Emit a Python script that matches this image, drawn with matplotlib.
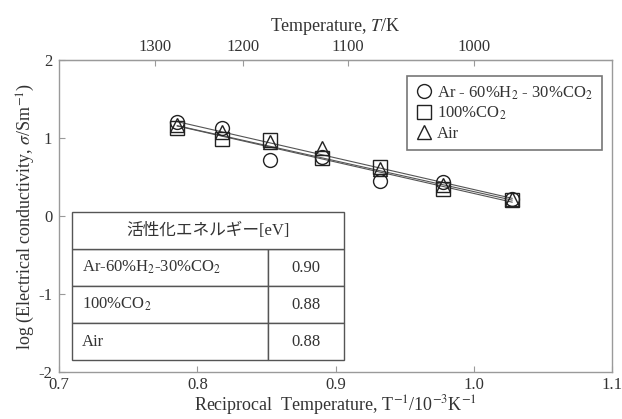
import numpy as np
import matplotlib.pyplot as plt

plt.rcParams['font.family'] = ['Liberation Serif', 'Noto Sans CJK JP']
plt.rcParams['mathtext.fontset'] = 'stix'
plt.rcParams['axes.unicode_minus'] = False

# Data
inv_temp = [0.7855, 0.8177, 0.8525, 0.8905, 0.932, 0.9775, 1.0277]
log_sigma_arh2co2 = [1.20, 1.13, 0.72, 0.75, 0.45, 0.44, 0.22]
log_sigma_co2 = [1.13, 0.99, 0.97, 0.74, 0.63, 0.35, 0.20]
log_sigma_air = [1.17, 1.07, 0.95, 0.87, 0.60, 0.40, 0.22]

series_labels = ['Ar - 60%H$_2$ - 30%CO$_2$', '100%CO$_2$', 'Air']
series_markers = ['o', 's', '^']

table_header = '活性化エネルギー[eV]'
table_rows = ['Ar-60%H$_2$-30%CO$_2$', '100%CO$_2$', 'Air']
table_values = ['0.90', '0.88', '0.88']

top_temps = [1300, 1200, 1100, 1000]

fig = plt.figure(figsize=(6.22, 4.19), dpi=100)
ax = fig.add_axes([0.095, 0.112, 0.889, 0.745])

grey = '#9a9a9a'
txt = '#333333'

x = np.array(inv_temp)
for ys, lab, mk in zip([log_sigma_arh2co2, log_sigma_co2, log_sigma_air], series_labels, series_markers):
    ys = np.array(ys)
    # fitted Arrhenius line
    p = np.polyfit(x, ys, 1)
    ax.plot(x[[0, -1]], np.polyval(p, x[[0, -1]]), color='#555555', lw=0.8, zorder=2)
    ax.plot(x, ys, linestyle='none', marker=mk, ms=10, mfc='none', mec='#222222',
            mew=1.0, label=lab, zorder=3)

ax.set_xlim(0.7, 1.1)
ax.set_ylim(-2, 2)
ax.set_xticks([0.7, 0.8, 0.9, 1.0, 1.1])
ax.set_xticklabels(['0.7', '0.8', '0.9', '1.0', '1.1'])
ax.set_yticks([-2, -1, 0, 1, 2])
ax.tick_params(direction='in', length=4, colors=grey, labelcolor=txt, labelsize=12)
ax.tick_params(axis='y', pad=5)
for s in ax.spines.values():
    s.set_color(grey)
    s.set_linewidth(1.0)

ax.set_xlabel('Reciprocal  Temperature, T$^{-1}$/10$^{-3}$K$^{-1}$', fontsize=13, color=txt, labelpad=0)
ax.set_ylabel('log (Electrical conductivity, $\\sigma$/Sm$^{-1}$)', fontsize=13, color=txt, labelpad=1)

# top axis: temperature in K
top = ax.secondary_xaxis('top', functions=(lambda v: 1000.0 / np.maximum(v, 1e-6),
                                           lambda t: 1000.0 / np.maximum(t, 1e-6)))
top.set_xticks(top_temps)
top.set_xticklabels([str(t) for t in top_temps])
top.tick_params(direction='in', length=4, colors=grey, labelcolor=txt, labelsize=12)
top.spines['top'].set_color(grey)
top.set_xlabel('Temperature, $T$/K', fontsize=13, color=txt, labelpad=6)

leg = ax.legend(loc='upper right', bbox_to_anchor=(0.99, 0.965), fontsize=12, frameon=True,
                fancybox=False, edgecolor='#555555', handlelength=1.0, handletextpad=0.3,
                labelspacing=0.2, borderpad=0.5, borderaxespad=0.3)
leg.get_frame().set_linewidth(1.2)
for t in leg.get_texts():
    t.set_color(txt)

# inset table with activation energies
tx0, ty0, tw, th = 0.0235, 0.038, 0.4915, 0.475
hdr_h = th / 4
cell_text = [[r, v] for r, v in zip(table_rows, table_values)]
tbl = ax.table(cellText=cell_text, colWidths=[0.355, 0.137], cellLoc='left',
               bbox=[tx0, ty0, tw, th - hdr_h])
tbl.auto_set_font_size(False)
tbl.set_fontsize(12)
for (r, c), cell in tbl.get_celld().items():
    cell.set_edgecolor('#555555')
    cell.set_linewidth(1.0)
    cell.get_text().set_color(txt)
    cell.PAD = 0.05
    if c == 1:
        cell._loc = 'center'
        cell.get_text().set_horizontalalignment('center')
# header spanning both columns
ax.add_patch(plt.Rectangle((tx0, ty0 + th - hdr_h), tw, hdr_h, transform=ax.transAxes,
                           facecolor='white', edgecolor='#555555', lw=1.0, zorder=5))
ax.text(tx0 + tw / 2, ty0 + th - hdr_h / 2, table_header, transform=ax.transAxes,
        ha='center', va='center', fontsize=12, color=txt, zorder=6,
        family=['Liberation Serif', 'Noto Sans CJK JP'])

fig.savefig('out.png', dpi=100)
